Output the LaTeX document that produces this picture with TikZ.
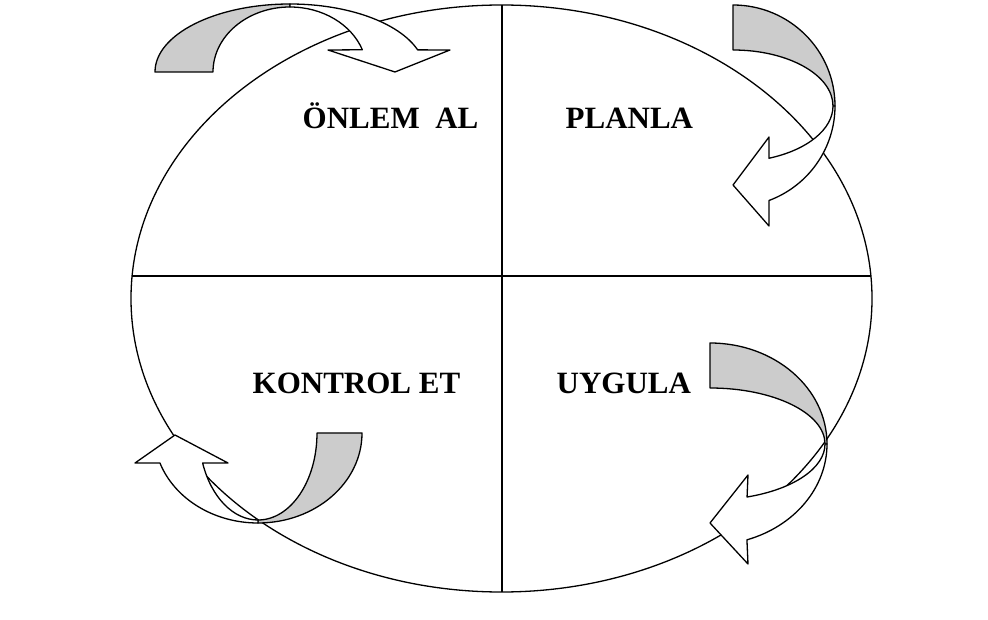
\documentclass[tikz,border=0pt]{standalone}
\usepackage{fontspec}
\setmainfont{Liberation Serif}

\begin{document}
\begin{tikzpicture}[x=1pt,y=1pt,line width=1.3pt,
    band/.style={draw=black,fill=white,line join=round},
    back/.style={draw=black,fill=gray!40,line join=round},
    stage/.style={font=\fontsize{31}{31}\selectfont\bfseries,anchor=base west,inner sep=0pt}]
  \useasboundingbox (0,0) rectangle (988,619);

  % the cycle: ellipse cut in four
  \draw (501.5,320.5) ellipse [x radius=370.5, y radius=293.5];
  \coordinate (top) at (502,614);
  \coordinate (bottom) at (502,27);
  \coordinate (left) at (132,343);
  \coordinate (right) at (871,343);
  \draw (top) -- (bottom);
  \draw (left) -- (right);

  \node[stage] (onlem) at (302,490) {ÖNLEM\ \ AL};
  \node[stage] (planla) at (565,490) {PLANLA};
  \node[stage] (kontrol) at (252,225) {KONTROL ET};
  \node[stage] (uygula) at (556,225) {UYGULA};

  % curved arrows, each around its own centre
  \begin{scope}[shift={(290,547)}]
    \draw[back] (180:135 and 68) arc[start angle=180,end angle=90,x radius=135,y radius=68]
      -- (90:77 and 65) arc[start angle=90,end angle=180,x radius=77,y radius=65] -- cycle;
    \draw[band] (90:135 and 68) arc[start angle=90,end angle=19,x radius=135,y radius=68]
      -- (160,22) -- (105,0) -- (38,22)
      -- (20:77 and 65) arc[start angle=20,end angle=90,x radius=77,y radius=65] -- cycle;
  \end{scope}

  \begin{scope}[shift={(733,513)}]
    \draw[back] (90:102 and 101) arc[start angle=90,end angle=0,x radius=102,y radius=101]
      -- (0:100 and 56) arc[start angle=0,end angle=90,x radius=100,y radius=56] -- cycle;
    \draw[band] (0:102 and 101) arc[start angle=0,end angle=-69.3,x radius=102,y radius=101]
      -- (36,-120) -- (0,-79) -- (36,-31)
      -- (-68.9:100 and 56) arc[start angle=-68.9,end angle=0,x radius=100,y radius=56] -- cycle;
  \end{scope}

  \begin{scope}[shift={(710,175)}]
    \draw[back] (90:117 and 101) arc[start angle=90,end angle=0,x radius=117,y radius=101]
      -- (0:115 and 56) arc[start angle=0,end angle=90,x radius=115,y radius=56] -- cycle;
    \draw[band] (0:117 and 101) arc[start angle=0,end angle=-71.6,x radius=117,y radius=101]
      -- (38,-120) -- (0,-79) -- (38,-31)
      -- (-71.2:115 and 56) arc[start angle=-71.2,end angle=0,x radius=115,y radius=56] -- cycle;
  \end{scope}

  \begin{scope}[shift={(258,186)}]
    \draw[back] (0:104 and 90) arc[start angle=0,end angle=-90,x radius=104,y radius=90]
      -- (-90:59 and 87) arc[start angle=-90,end angle=0,x radius=59,y radius=87] -- cycle;
    \draw[band] (-90:104 and 90) arc[start angle=-90,end angle=-160.5,x radius=104,y radius=90]
      -- (-123,-30) -- (-83,-2) -- (-30,-30)
      -- (-159.8:59 and 87) arc[start angle=-159.8,end angle=-90,x radius=59,y radius=87] -- cycle;
  \end{scope}
\end{tikzpicture}
\end{document}
